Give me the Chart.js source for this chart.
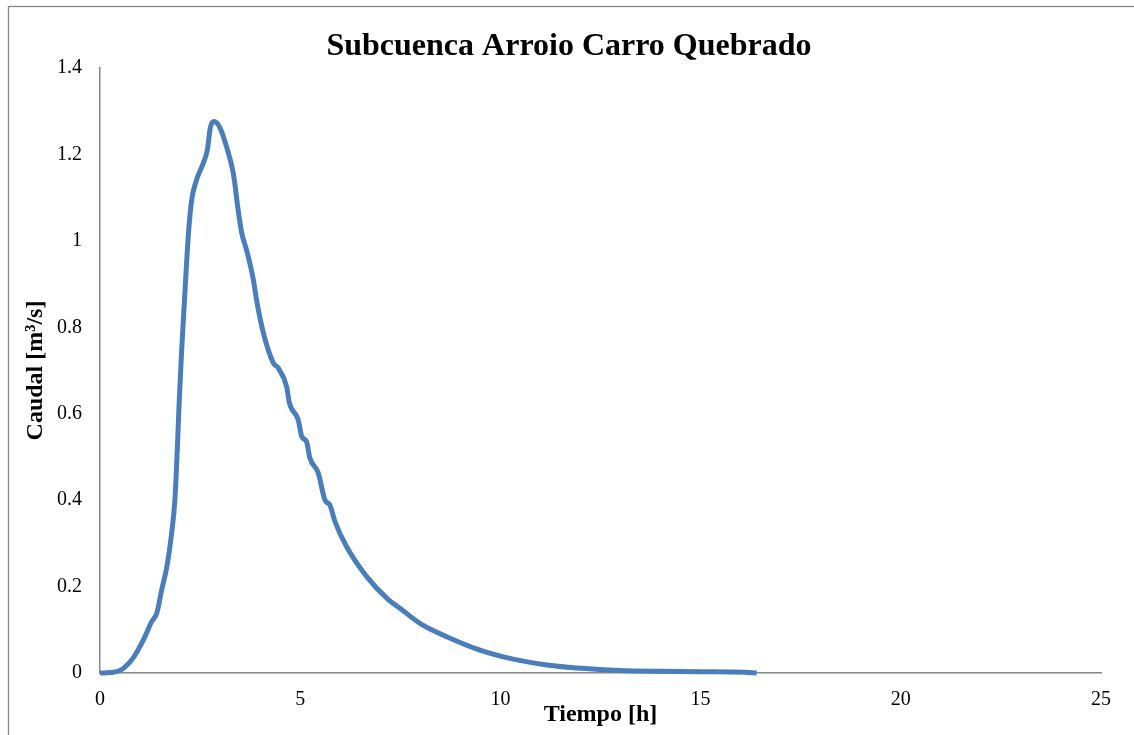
<!DOCTYPE html>
<html>
<head>
<meta charset="utf-8">
<script src="https://cdn.jsdelivr.net/npm/chart.js@4/dist/chart.umd.min.js"></script>
<style>
  html, body { margin: 0; padding: 0; background: #fff; }
  #wrap { position: relative; width: 1134px; height: 735px; }
</style>
</head>
<body>
<div id="wrap"><canvas id="myChart" width="1134" height="735"></canvas></div>
<script>
var chartTitle = 'Subcuenca Arroio Carro Quebrado';
var xTitle = 'Tiempo [h]';
var yTitle = 'Caudal [m³/s]';

// tiempo (h) y caudal (m3/s)
var tiempo = [0, 0.25, 0.45, 0.6, 0.83, 1.08, 1.29, 1.42, 1.54, 1.67, 1.79, 1.87, 1.93, 1.98,
    2.04, 2.11, 2.21, 2.29, 2.41, 2.58, 2.68, 2.76, 2.85, 3.0, 3.16, 3.33, 3.45, 3.54, 3.66,
    3.83, 3.91, 4.08, 4.33, 4.45, 4.66, 4.73, 4.95, 5.04, 5.16, 5.24, 5.45, 5.62, 5.74, 5.87,
    6.16, 6.66, 7.2, 7.49, 7.99, 8.66, 9.49, 10.32, 11.16, 12.0, 13.0, 14.0, 15.0, 16.1, 16.4];
var caudal = [0, 0.001, 0.004, 0.012, 0.035, 0.076, 0.119, 0.139, 0.192, 0.246, 0.324, 0.40, 0.516, 0.632,
    0.748, 0.863, 1.018, 1.095, 1.141, 1.18, 1.21, 1.264, 1.276, 1.261, 1.218, 1.156, 1.072, 1.018, 0.979,
    0.91, 0.863, 0.787, 0.717, 0.706, 0.663, 0.625, 0.586, 0.547, 0.535, 0.498, 0.463, 0.40, 0.389, 0.35,
    0.292, 0.223, 0.17, 0.15, 0.115, 0.084, 0.053, 0.032, 0.0185, 0.011, 0.006, 0.004, 0.003, 0.002, 0];

var xTicks = [0, 5, 10, 15, 20, 25];
var yTicks = [0, 0.2, 0.4, 0.6, 0.8, 1, 1.2, 1.4];

var points = [];
for (var i = 0; i < tiempo.length; i++) {
    points.push({ x: tiempo[i], y: caudal[i] });
}

var serif = '"Liberation Serif", "Times New Roman", serif';
var axisGray = '#868686';

// frame and title drawn by hand so they sit where the original has them
var framePlugin = {
    id: 'framePlugin',
    afterDraw: function (chart) {
        var ctx = chart.ctx;
        ctx.save();
        ctx.strokeStyle = axisGray;
        ctx.lineWidth = 1.3;
        ctx.strokeRect(8.5, 6.5, 1200, 800);
        ctx.fillStyle = '#000';
        ctx.font = 'bold 32px ' + serif;
        ctx.textAlign = 'center';
        ctx.textBaseline = 'alphabetic';
        ctx.fillText(chartTitle, 569, 55);
        ctx.restore();
    }
};

function plainLabel(value) {
    return String(Math.round(value * 10) / 10);
}

function createChart() {
    var ctx = document.getElementById('myChart').getContext('2d');
    new Chart(ctx, {
        type: 'line',
        data: {
            datasets: [{
                data: points,
                borderColor: '#4a7ebb',
                borderWidth: 5,
                pointRadius: 0,
                cubicInterpolationMode: 'monotone',
                fill: false,
                clip: false
            }]
        },
        options: {
            responsive: false,
            animation: false,
            layout: { padding: { top: 68, right: 33, left: 0, bottom: 0 } },
            plugins: {
                legend: { display: false },
                tooltip: { enabled: false },
                title: { display: false }
            },
            scales: {
                x: {
                    type: 'linear',
                    min: 0,
                    max: 25,
                    afterBuildTicks: function (scale) {
                        scale.ticks = xTicks.map(function (v) { return { value: v }; });
                    },
                    afterFit: function (scale) { scale.height = 62; },
                    grid: { display: false, drawTicks: false },
                    border: { display: true, color: axisGray, width: 1.5 },
                    ticks: { color: '#000', font: { family: serif, size: 20 }, padding: 15, maxRotation: 0, callback: plainLabel },
                    title: {
                        display: true,
                        text: xTitle,
                        color: '#000',
                        font: { family: serif, size: 24, weight: 'bold' },
                        padding: { top: 0, bottom: 6 }
                    }
                },
                y: {
                    min: 0,
                    max: 1.4,
                    afterBuildTicks: function (scale) {
                        scale.ticks = yTicks.map(function (v) { return { value: v }; });
                    },
                    afterFit: function (scale) { scale.width = 100; },
                    grid: { display: false, drawTicks: false },
                    border: { display: true, color: axisGray, width: 1.5 },
                    ticks: { color: '#000', font: { family: serif, size: 20 }, padding: 18, callback: plainLabel },
                    title: {
                        display: true,
                        text: yTitle,
                        color: '#000',
                        font: { family: serif, size: 24, weight: 'bold' },
                        padding: { top: 21, bottom: 0 }
                    }
                }
            }
        },
        plugins: [framePlugin]
    });
}
createChart();
</script>
</body>
</html>
